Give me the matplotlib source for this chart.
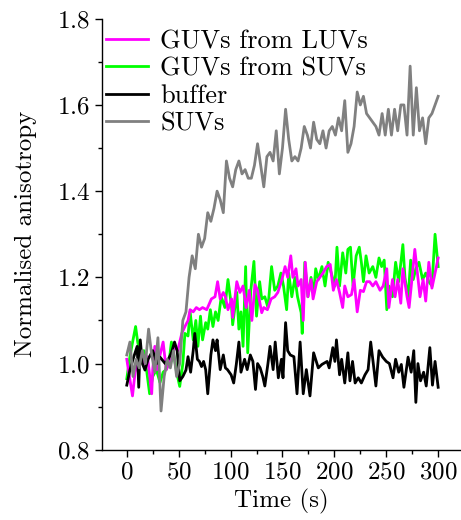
import matplotlib
matplotlib.use("Agg")
import matplotlib.pyplot as plt
from matplotlib.ticker import MultipleLocator
import numpy as np

plt.rcParams["font.family"] = "serif"
plt.rcParams["font.serif"] = ["cmr10"]
plt.rcParams["mathtext.fontset"] = "cm"
plt.rcParams["axes.formatter.use_mathtext"] = True

# GUVs from LUVs (magenta)
t_luv = [0, 3, 5.5, 8, 10.5, 14, 17, 20, 24, 25, 27, 29, 31, 35, 38, 40.5, 43, 46, 49, 53,
         56, 59, 61, 64, 67, 70, 73, 77, 81.5, 85, 87.5, 90, 93, 95, 97.5, 101, 102, 106, 109, 112,
         115, 118, 120.5, 123.5, 126, 130, 132, 135.5, 139, 142.5, 145.5, 149.5, 152.5, 155, 158, 160, 163, 165, 168, 170,
         172, 174.5, 177.5, 179.5, 183, 186, 189, 192.5, 196, 199, 202, 205, 208, 210, 213, 216.5, 219, 222, 225, 228,
         231, 234, 237, 240, 244, 247, 250.5, 252.5, 256, 258.5, 261, 264, 266, 270, 272, 274.5, 277.5, 280, 282.5, 285.5,
         288, 291, 294, 297, 300]
v_luv = [1.01, 0.963, 0.925, 0.98, 1.0, 1.03, 1.0, 1.016, 0.93, 0.986, 1.04, 0.986, 1.01, 1.05, 0.986, 1.0, 1.016, 1.04, 1.03, 1.07,
         1.086, 1.10, 1.125, 1.12, 1.13, 1.125, 1.13, 1.125, 1.15, 1.155, 1.19, 1.15, 1.165, 1.155, 1.125, 1.15, 1.107, 1.19, 1.165, 1.18,
         1.13, 1.17, 1.10, 1.183, 1.17, 1.118, 1.13, 1.125, 1.15, 1.155, 1.165, 1.195, 1.225, 1.20, 1.25, 1.20, 1.22, 1.18, 1.195, 1.10,
         1.235, 1.155, 1.195, 1.15, 1.19, 1.20, 1.21, 1.225, 1.23, 1.17, 1.195, 1.165, 1.13, 1.18, 1.155, 1.16, 1.195, 1.12, 1.17, 1.167,
         1.19, 1.19, 1.18, 1.19, 1.17, 1.18, 1.22, 1.13, 1.195, 1.155, 1.195, 1.14, 1.22, 1.155, 1.13, 1.19, 1.265, 1.21, 1.155, 1.195,
         1.145, 1.235, 1.175, 1.21, 1.245]

# GUVs from SUVs (green)
t_gsuv = [0, 3, 6, 8.5, 10.5, 14, 16.5, 19, 22, 25, 28.5, 32, 35, 38, 40.5, 43, 46, 48, 51, 54,
          56, 59, 61, 64, 66.5, 68.5, 71, 73, 76, 78, 80.5, 83, 85.5, 88, 91, 94.5, 97.5, 101, 102, 106,
          108, 110, 112, 114.5, 116.5, 119.5, 122.5, 125, 128, 130, 133, 136, 139.5, 142.5, 145.5, 148.5, 151, 154, 156, 159,
          162, 164.5, 168, 169, 171.5, 174.5, 177.5, 180, 182, 184.5, 188, 191, 194, 197, 200.5, 202.5, 205, 208, 211, 213,
          215.5, 218, 221, 224, 226, 228, 230.5, 233.5, 237, 240, 243, 245.5, 248, 250.5, 252.5, 256, 259, 262, 266, 268,
          271, 273.5, 276, 278.5, 281.5, 285, 288, 291, 294, 297, 300]
v_gsuv = [0.965, 1.016, 1.055, 1.086, 1.05, 1.01, 1.03, 0.986, 0.93, 0.97, 0.986, 0.956, 0.98, 0.986, 1.0, 1.05, 1.01, 0.98, 0.947, 1.0,
          1.07, 1.064, 1.12, 1.055, 1.10, 1.04, 1.11, 1.055, 1.095, 1.08, 1.125, 1.086, 1.12, 1.10, 1.155, 1.13, 1.195, 1.13, 1.09, 1.165,
          1.08, 1.12, 1.04, 1.225, 1.025, 1.17, 1.237, 1.11, 1.19, 1.15, 1.155, 1.13, 1.225, 1.17, 1.18, 1.21, 1.18, 1.125, 1.21, 1.155,
          1.20, 1.155, 1.118, 1.07, 1.235, 1.155, 1.20, 1.16, 1.22, 1.195, 1.225, 1.18, 1.235, 1.21, 1.18, 1.27, 1.18, 1.257, 1.21, 1.265,
          1.27, 1.18, 1.25, 1.27, 1.235, 1.19, 1.25, 1.21, 1.225, 1.20, 1.245, 1.225, 1.24, 1.125, 1.18, 1.155, 1.235, 1.19, 1.276, 1.20,
          1.15, 1.24, 1.195, 1.22, 1.235, 1.195, 1.21, 1.19, 1.18, 1.30, 1.225]

# buffer (black)
t_buf = [0, 3, 6, 10, 11.5, 13, 15, 17.5, 20.5, 25, 29, 32, 37, 40, 43, 46, 48.5, 51, 54, 57,
         59, 61.5, 64, 65.5, 68, 70, 72, 74, 76, 78, 81, 83, 85.5, 87, 90, 93, 95, 97, 100.5, 103,
         105.5, 108, 110, 113.5, 116, 119, 121.5, 124, 126, 128.5, 131, 133, 136, 138, 141, 143, 146, 149, 150.5, 153,
         155, 157.5, 161, 164, 167, 170, 173, 176.5, 180, 184.5, 188, 193, 195, 198.5, 200.5, 202, 205, 207, 210, 213,
         215, 217.5, 220, 223, 226, 229.5, 232.5, 235, 237.5, 240, 243, 246.5, 250, 253, 256.5, 259, 262, 264.5, 267, 271,
         274, 276.5, 278.5, 280.5, 283, 286, 288.5, 292, 294.5, 297, 300]
v_buf = [0.95, 0.985, 1.01, 1.04, 0.945, 1.055, 1.0, 0.985, 1.01, 1.03, 1.0, 1.015, 1.0, 1.01, 1.025, 1.05, 1.03, 0.96, 0.97, 0.985,
         1.016, 0.98, 1.03, 1.07, 1.01, 1.005, 0.993, 1.005, 0.986, 0.93, 1.02, 1.055, 1.03, 1.055, 0.986, 1.02, 0.99, 0.986, 0.974, 0.955,
         0.998, 1.05, 0.98, 1.01, 0.986, 1.02, 1.005, 0.94, 1.0, 0.99, 0.97, 0.948, 1.0, 1.04, 0.986, 1.05, 0.967, 1.01, 0.967, 1.095,
         1.03, 1.02, 1.016, 0.93, 1.05, 0.93, 0.986, 0.925, 1.025, 0.99, 0.998, 1.005, 0.99, 1.037, 1.005, 1.055, 0.974, 1.01, 0.955, 1.025,
         0.96, 1.005, 0.955, 0.967, 0.955, 0.974, 0.986, 1.05, 1.0, 0.948, 1.03, 1.015, 1.005, 1.0, 0.967, 1.01, 0.98, 0.998, 0.945, 1.015,
         0.98, 1.03, 0.91, 1.0, 0.96, 0.98, 0.948, 1.037, 0.95, 1.005, 0.945]

# SUVs (grey), sampled every 3 s
t_suv = np.arange(0, 301, 3)
v_suv = [1.02, 1.05, 0.97, 1.01, 0.99, 1.03, 1.00, 1.08, 1.02, 0.98,
         1.06, 0.89, 0.97, 1.01, 0.99, 1.03, 0.97, 1.00, 1.10, 1.12,
         1.20, 1.25, 1.22, 1.30, 1.27, 1.29, 1.35, 1.33, 1.36, 1.40,
         1.38, 1.35, 1.47, 1.43, 1.41, 1.45, 1.47, 1.44, 1.45, 1.43,
         1.43, 1.46, 1.51, 1.46, 1.41, 1.48, 1.49, 1.47, 1.54, 1.44,
         1.50, 1.59, 1.52, 1.47, 1.48, 1.47, 1.50, 1.55, 1.53, 1.50,
         1.56, 1.52, 1.51, 1.54, 1.50, 1.54, 1.55, 1.53, 1.57, 1.54,
         1.61, 1.49, 1.51, 1.55, 1.63, 1.60, 1.62, 1.58, 1.57, 1.56,
         1.55, 1.53, 1.58, 1.53, 1.59, 1.53, 1.59, 1.54, 1.60, 1.60,
         1.53, 1.69, 1.53, 1.64, 1.54, 1.57, 1.51, 1.57, 1.58, 1.60,
         1.62]

fig = plt.figure(figsize=(4.61, 5.2), dpi=100)
ax = fig.add_axes([0.221, 0.135, 0.779, 0.829])

lw = 2.0
l1, = ax.plot(t_luv, v_luv, color="#ff00ff", lw=lw, zorder=3)
l2, = ax.plot(t_gsuv, v_gsuv, color="#00ff00", lw=lw, zorder=2)
l3, = ax.plot(t_buf, v_buf, color="black", lw=lw, zorder=4)
l4, = ax.plot(t_suv, v_suv, color="#808080", lw=lw, zorder=5)

ax.set_xlim(-24, 322)
ax.set_ylim(0.8, 1.8)
ax.xaxis.set_major_locator(MultipleLocator(50))
ax.xaxis.set_minor_locator(MultipleLocator(25))
ax.yaxis.set_major_locator(MultipleLocator(0.2))
ax.yaxis.set_minor_locator(MultipleLocator(0.1))
ax.spines["top"].set_visible(False)
ax.spines["right"].set_visible(False)
for s in ("left", "bottom"):
    ax.spines[s].set_linewidth(1.0)
ax.tick_params(which="major", direction="out", length=5, width=1.0, labelsize=18)
ax.tick_params(which="minor", direction="out", length=3, width=1.0)

ax.set_xlabel("Time (s)", fontsize=18, labelpad=4)
ax.set_ylabel("Normalised anisotropy", fontsize=18, labelpad=14)

ax.legend([l1, l2, l3, l4], ["GUVs from LUVs", "GUVs from SUVs", "buffer", "SUVs"],
          loc="upper left", bbox_to_anchor=(0.012, 0.975), frameon=False, fontsize=19,
          handlelength=1.6, handletextpad=0.45, labelspacing=0.14, borderpad=0, borderaxespad=0)

fig.savefig("out.png", dpi=100)
